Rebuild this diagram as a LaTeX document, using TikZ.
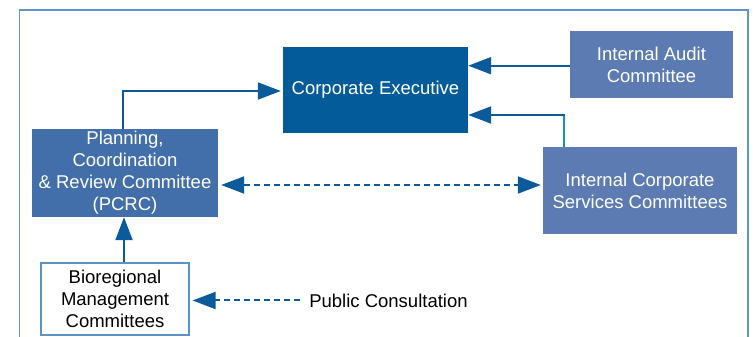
\documentclass[tikz,border=0pt]{standalone}
\usepackage{fontspec}
\setmainfont{Liberation Sans}
\usetikzlibrary{arrows.meta}
\definecolor{cefill}{HTML}{035B9A}
\definecolor{pcrcfill}{HTML}{426EAA}
\definecolor{sidefill}{HTML}{5B7BB2}
\definecolor{arrowblue}{HTML}{0A5A9C}
\definecolor{tealline}{HTML}{1593B5}
\definecolor{framecol}{HTML}{5E95CF}
\definecolor{bioborder}{HTML}{5B92C8}
\newcommand\dfont{\fontsize{18.5}{22}\selectfont}
\begin{document}
\begin{tikzpicture}[x=1pt,y=1pt,
  box/.style={inner sep=0pt, align=center, font=\dfont, text=white},
  conn/.style={draw=arrowblue, line width=2pt, -{Triangle[length=23pt,width=17pt]}},
  dasharrow/.style={draw=arrowblue, line width=2pt, dash pattern=on 6.5pt off 3.5pt},
  tipshape/.tip={Triangle[length=23pt,width=17pt]}
]
\useasboundingbox (0,0) rectangle (753,337);
% outer frame
\draw[framecol, line width=1.5pt] (19.5,-10) rectangle (748,327);

\node[box, fill=cefill, minimum width=185pt, minimum height=86pt] (ce) at (375.5,247) {Corporate Executive};
\node[box, fill=sidefill, minimum width=163pt, minimum height=67pt] (ia) at (651.5,272.5) {Internal Audit\\Committee};
\node[box, fill=sidefill, minimum width=194pt, minimum height=87pt] (ics) at (640,146.5) {Internal Corporate\\Services Committees};
\node[box, fill=pcrcfill, minimum width=186pt, minimum height=88pt] (pcrc) at (125,164) {Planning,\\Coordination\\\& Review Committee\\(PCRC)};
\node[box, text=black, fill=white, draw=bioborder, line width=1.2pt, minimum width=148pt, minimum height=72pt] (bio) at (115,38) {Bioregional\\Management\\Committees};
\node[inner sep=0pt, font=\dfont, text=black] (pc) at (388.5,36.5) {Public Consultation};

% PCRC -> Corporate Executive
\draw[conn, shorten >=2pt] ([xshift=-2pt]pcrc.north) |- ([yshift=-1pt]ce.west);
% Internal Audit -> Corporate Executive
\draw[conn] ([yshift=-1.2pt]ia.west) -- ([yshift=-1.2pt]ia.west -| ce.east);
% Internal Corporate Services -> Corporate Executive
\draw[conn] ([xshift=21pt]ics.north west) |- ([yshift=-25pt]ce.east);
\draw[tealline, line width=2pt] ([xshift=21pt]ics.north west) -- ++(0,31pt);
% PCRC <-> ICS dashed
\draw[dasharrow, {Triangle[length=23pt,width=17pt]}-{Triangle[length=23pt,width=17pt]}, shorten <=3pt, shorten >=2pt]
  ([yshift=-12pt]pcrc.east) -- ([yshift=-12pt]pcrc.east -| ics.west);
% Bio -> PCRC
\draw[conn] ([xshift=9pt]bio.north) -- ([xshift=9pt]bio.north |- pcrc.south);
% Public Consultation -> Bio
\draw[dasharrow, -{Triangle[length=23pt,width=17pt]}, shorten <=9pt, shorten >=3pt]
  (pc.west) -- (pc.west -| bio.east);
\end{tikzpicture}
\end{document}
